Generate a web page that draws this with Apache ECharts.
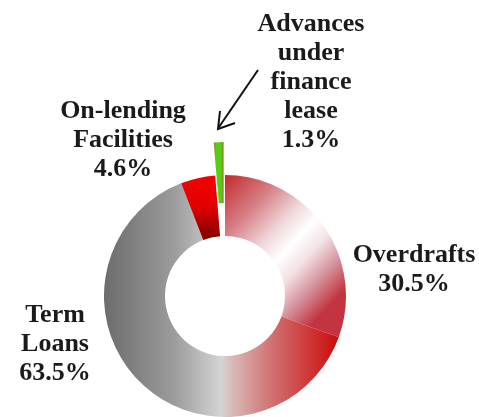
<!DOCTYPE html>
<html>
<head>
<meta charset="utf-8">
<script src="https://cdn.jsdelivr.net/npm/echarts@6/dist/echarts.min.js"></script>
<style>
html, body { margin: 0; padding: 0; background: #fff; }
#main { width: 479px; height: 417px; }
</style>
</head>
<body>
<div id="main"></div>
<script type="text/javascript">
// loan portfolio split, %
var categories = ['Overdrafts', 'Term\nLoans', 'On-lending\nFacilities', 'Advances\nunder\nfinance\nlease'];
var shares = [30.5, 63.5, 4.6, 1.3];

// label anchors (block centre), one per category
var labelPos = [[414, 270], [55, 344], [123, 140], [311, 82]];

function grad(x2, y2, stops) {
	return new echarts.graphic.LinearGradient(0, 0, x2, y2, stops.map(function (s) {
		return { offset: s[0], color: s[1] };
	}));
}

var fills = [
	grad(1, 0.7, [[0, '#c42a2c'], [0.25, '#d57e84'], [0.45, '#f0d8da'], [0.58, '#ffffff'], [0.7, '#f3e2e4'], [0.85, '#d4909a'], [1, '#c23440']]),
	grad(1, 0, [[0, '#6c6c6c'], [0.3, '#9c9c9c'], [0.5, '#d4d4d4'], [0.54, '#d9bcbc'], [0.7, '#d27676'], [1, '#cc0a0a']]),
	grad(0, 1, [[0, '#f40000'], [0.5, '#e00000'], [1, '#7e0000']]),
	grad(1, 0, [[0, '#9a7a3c'], [0.3, '#55d010'], [0.7, '#55d010'], [1, '#a07838']])
];

var data = categories.map(function (c, i) {
	return {
		name: c,
		value: shares[i],
		selected: i === 3,
		itemStyle: { color: fills[i] }
	};
});

var labelStyle = {
	fontFamily: 'Liberation Serif',
	fontWeight: 'bold',
	fontSize: 26,
	lineHeight: 29,
	fill: '#1a1a1a',
	align: 'center',
	verticalAlign: 'middle'
};

var labels = categories.map(function (c, i) {
	return {
		type: 'text',
		x: labelPos[i][0],
		y: labelPos[i][1],
		style: Object.assign({ text: c + '\n' + shares[i].toFixed(1) + '%' }, labelStyle)
	};
});

var myChart = echarts.init(document.getElementById('main'));
var option = {
	animation: false,
	series: [
		{
			type: 'pie',
			center: [225, 296],
			radius: [60, 121],
			startAngle: 90,
			clockwise: true,
			selectedMode: 'single',
			selectedOffset: 33,
			emphasis: { disabled: true },
			label: { show: false },
			labelLine: { show: false },
			data: data
		}
	],
	graphic: labels.concat([
		{
			type: 'line',
			shape: { x1: 258, y1: 70, x2: 219, y2: 127 },
			style: { stroke: '#111', lineWidth: 2 }
		},
		{
			type: 'polyline',
			shape: { points: [[220, 111], [218, 129], [235, 123]] },
			style: { stroke: '#111', lineWidth: 2, fill: null }
		}
	])
};
myChart.setOption(option);
</script>
</body>
</html>
